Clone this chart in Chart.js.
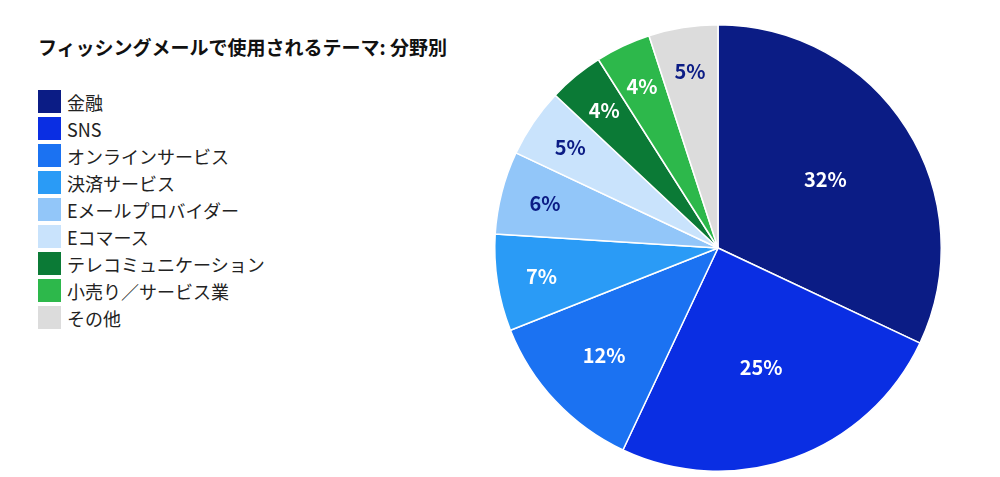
<!DOCTYPE html>
<html><head><meta charset="utf-8">
<script src="https://cdn.jsdelivr.net/npm/chart.js@4"></script>
<style>
body{margin:0;background:#fff;font-family:"Noto Sans CJK JP","Noto Sans",sans-serif;}
#wrap{position:relative;width:1000px;height:477px;}
#title{position:absolute;left:38px;top:33px;font-size:19px;font-weight:bold;color:#111;}
#legend{position:absolute;left:38px;top:88px;}
.item{display:flex;align-items:center;height:27px;font-size:18px;color:#222;}
.box{width:23px;height:23px;margin-right:6px;}
#cv{position:absolute;left:490px;top:20px;}
</style></head><body>
<div id="wrap">
<div id="title">フィッシングメールで使用されるテーマ: 分野別</div>
<div id="legend"></div>
<canvas id="cv" width="456" height="456"></canvas>
</div>
<script>
const categories=["金融","SNS","オンラインサービス","決済サービス","Eメールプロバイダー","Eコマース","テレコミュニケーション","小売り／サービス業","その他"];
const values=[32,25,12,7,6,5,4,4,5];
const colors=["#0b1c85","#0a2ee3","#1b72f2","#2a9bf6","#92c6f9","#c9e3fc","#0b7a36","#2db84b","#dcdcdc"];
const labelColors=["#fff","#fff","#fff","#fff","#0b1c85","#0b1c85","#fff","#fff","#0b1c85"];
const lg=document.getElementById('legend');
categories.forEach((c,i)=>{lg.insertAdjacentHTML('beforeend',`<div class="item"><div class="box" style="background:${colors[i]}"></div>${c}</div>`);});
const labelPlugin={id:'lbl',afterDatasetsDraw(chart){
 const ctx=chart.ctx;const meta=chart.getDatasetMeta(0);
 meta.data.forEach((arc,i)=>{
  const v=values[i];const f=v>=20?0.57:(v>=10?0.7:0.8);
  const a=(arc.startAngle+arc.endAngle)/2;const r=arc.outerRadius*f;
  ctx.save();ctx.font='bold 20px "Noto Sans CJK JP","Noto Sans",sans-serif';
  ctx.fillStyle=labelColors[i];ctx.textAlign='center';ctx.textBaseline='middle';
  ctx.fillText(v+'%',arc.x+Math.cos(a)*r,arc.y+Math.sin(a)*r);ctx.restore();
 });
}};
new Chart(document.getElementById('cv'),{type:'pie',
 data:{labels:categories,datasets:[{data:values,backgroundColor:colors,borderColor:'#fff',borderWidth:1.5}]},
 options:{responsive:false,animation:false,layout:{padding:4},plugins:{legend:{display:false},tooltip:{enabled:false}}},
 plugins:[labelPlugin]});
</script>
</body></html>
